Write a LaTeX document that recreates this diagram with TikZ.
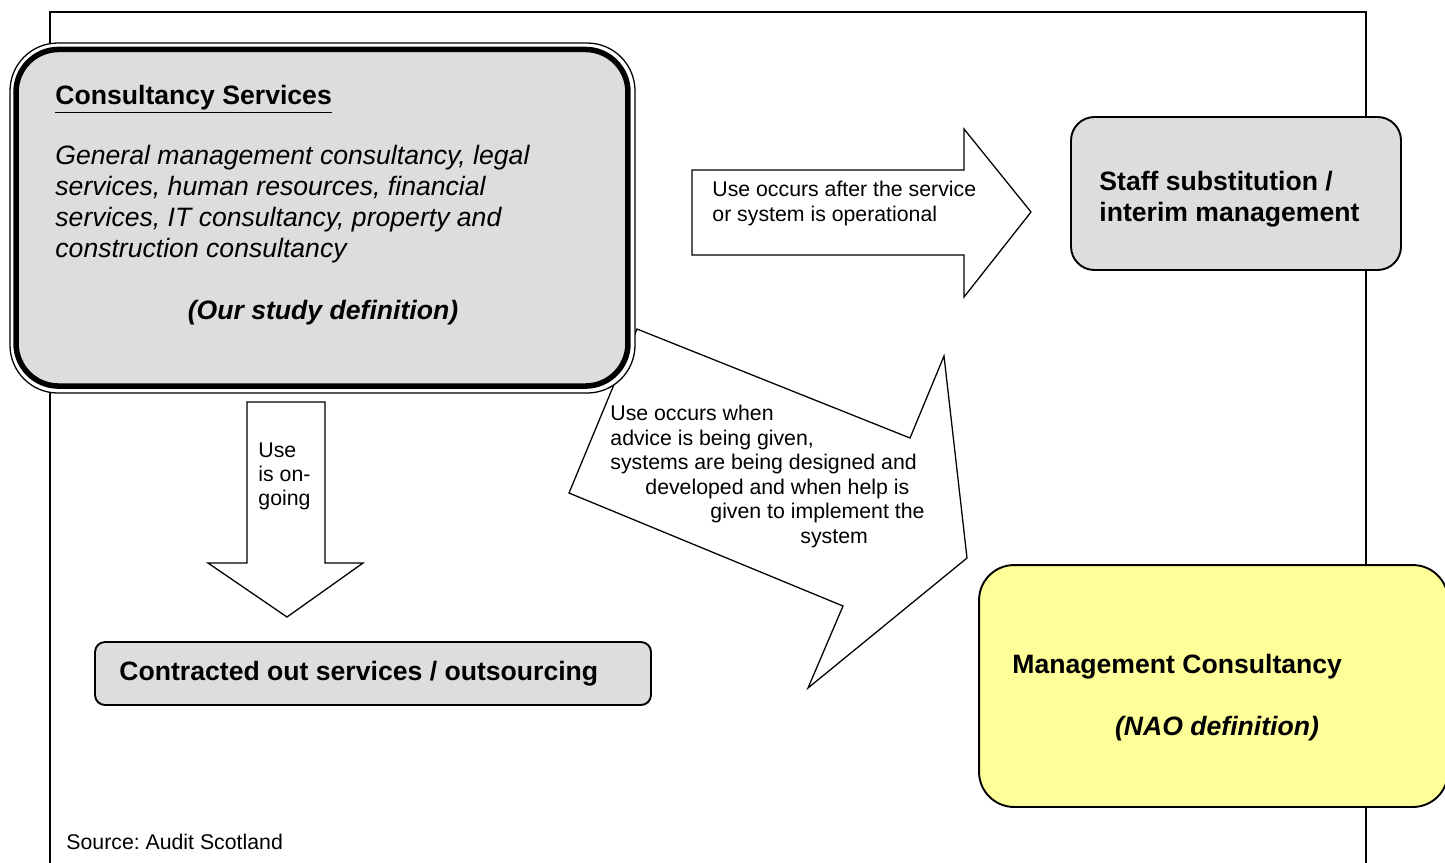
\documentclass[tikz,border=0pt]{standalone}
\usepackage{fontspec}
\setmainfont{Liberation Sans}
\frenchspacing

\definecolor{boxgray}{RGB}{221,221,221}
\definecolor{naoyellow}{RGB}{255,255,153}

\begin{document}
\begin{tikzpicture}[
		x=0.47pt, y=-0.47pt,
		roundbox/.style={rectangle, draw, fill=boxgray, line width=0.9pt, inner sep=0pt},
		blockarrow/.style={draw, fill=white, line width=0.6pt, line join=miter},
		headtext/.style={anchor=base west, inner sep=0pt, font=\fontsize{12.5}{15}\selectfont\bfseries},
		bodytext/.style={anchor=base west, inner sep=0pt, font=\fontsize{12.5}{15}\selectfont\itshape},
		smalltext/.style={anchor=base west, inner sep=0pt, font=\fontsize{10}{12}\selectfont}
	]

	\useasboundingbox (0,0) rectangle (1445,862);
	\clip (0,0) rectangle (1445,862);

	% page frame, runs off the bottom
	\draw[line width=0.9pt] (50,12) rectangle (1366,900);

	% block arrows
	\draw[blockarrow] (692,170) -- (964,170) -- (964,129) -- (1031,212) -- (964,297) -- (964,255) -- (692,255) -- cycle;
	\draw[blockarrow] (247,402) -- (325,402) -- (325,563) -- (363,563) -- (287,617) -- (208,563) -- (247,563) -- cycle;
	\draw[blockarrow] (637,329) -- (910,438) -- (944,356) -- (967,558) -- (808,688) -- (843,606) -- (569,493) -- cycle;

	\node[smalltext] (oper1) at (712,196) {Use occurs after the service};
	\node[smalltext] (oper2) at (712,221) {or system is operational};

	\foreach \txt [count=\i] in {Use, is on-, going}
		\node[smalltext] (ongo\i) at (258,433+24*\i) {\txt};

	\foreach \x/\txt [count=\i] in {610/Use occurs when, 610/{advice is being given,}, 610/systems are being designed and, 645/developed and when help is, 710/given to implement the, 800/system}
		\node[smalltext] (advice\i) at (\x,396+24.5*\i) {\txt};

	% consultancy services: thin outer ring, heavy inner border
	\node[rectangle, draw, fill=white, line width=0.6pt, rounded corners=22.5pt, minimum width=293.75pt, minimum height=164.5pt] (consultout) at (322.5,218) {};
	\node[roundbox, line width=2.6pt, rounded corners=20pt, minimum width=287.6pt, minimum height=158.2pt] (consult) at (322,217.75) {};

	\node[headtext] (consulttitle) at (55,104) {\underline{Consultancy Services}};
	\foreach \txt [count=\i] in {{General management consultancy, legal}, {services, human resources, financial}, {services, IT consultancy, property and}, {construction consultancy}}
		\node[bodytext] (cdesc\i) at (55,133+31*\i) {\txt};
	\node[headtext, anchor=base, font=\fontsize{12.5}{15}\selectfont\bfseries\itshape] (ourdef) at (323,319) {(Our study definition)};

	% the other services
	\node[roundbox, rounded corners=11pt, minimum width=155.1pt, minimum height=71.9pt] (staff) at (1236,193.5) {};
	\node[headtext] (staff1) at (1099,190) {Staff substitution /};
	\node[headtext] (staff2) at (1099,221) {interim management};

	\node[roundbox, rounded corners=4.7pt, minimum width=261.3pt, minimum height=29.6pt] (contract) at (373,673.5) {};
	\node[headtext] (contracttext) at (119,680) {Contracted out services / outsourcing};

	\node[roundbox, fill=naoyellow, rounded corners=16.5pt, minimum width=220.4pt, minimum height=113.7pt] (mgmt) at (1213.5,686) {};
	\node[headtext] (mgmttext) at (1012,673) {Management Consultancy};
	\node[headtext, anchor=base, font=\fontsize{12.5}{15}\selectfont\bfseries\itshape] (naodef) at (1217,735) {(NAO definition)};

	\node[smalltext] (source) at (66,849) {Source: Audit Scotland};

\end{tikzpicture}
\end{document}
